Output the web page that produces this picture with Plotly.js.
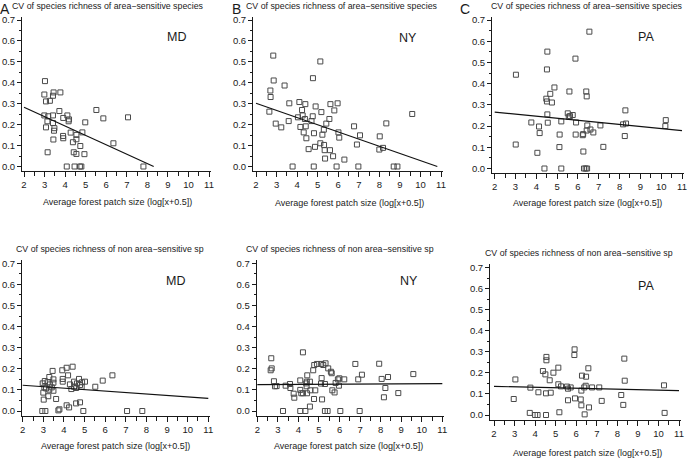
<!DOCTYPE html>
<html>
<head>
<meta charset="utf-8">
<script src="https://cdn.plot.ly/plotly-3.0.1.min.js"></script>
<style>body{margin:0;background:#fff}#plot{width:688px;height:460px}</style>
</head>
<body>
<div id="plot"></div>
<script>
// Panel A - MD, area-sensitive species
let mdAreaX = [3.02, 2.99, 3.44, 3.77, 3.41, 3.07, 3.26, 3.72, 5.52, 5.86, 7.06, 2.99, 3.18, 3.41, 3.91, 4.11, 4.19, 4.17, 3.14, 3.41, 4.98, 3.07, 3.48, 3.46, 4.27, 4.84, 4.55, 3.90, 3.91, 3.43, 4.55, 4.38, 6.35, 4.74, 3.15, 4.42, 4.55, 4.94, 4.08, 4.46, 4.72, 4.79, 7.81];
let mdAreaY = [0.408, 0.344, 0.354, 0.354, 0.338, 0.311, 0.314, 0.265, 0.270, 0.230, 0.235, 0.244, 0.240, 0.244, 0.232, 0.244, 0.225, 0.216, 0.216, 0.208, 0.211, 0.187, 0.183, 0.171, 0.162, 0.163, 0.151, 0.146, 0.135, 0.129, 0.130, 0.116, 0.111, 0.098, 0.068, 0.068, 0.060, 0.059, 0, 0, 0, 0, 0];
let mdAreaFitX = [2, 8.31];
let mdAreaFitY = [0.283, 0];

// Panel B - NY, area-sensitive species
let nyAreaX = [2.84, 2.86, 3.39, 2.70, 2.71, 2.65, 5.13, 4.77, 3.62, 4.11, 4.40, 4.90, 5.62, 5.97, 4.24, 5.18, 5.81, 9.60, 4.27, 4.76, 4.04, 4.38, 5.57, 4.70, 3.59, 2.96, 5.42, 8.34, 4.16, 4.42, 3.23, 6.77, 5.30, 4.32, 6.01, 4.82, 5.23, 7.06, 8.02, 6.05, 4.45, 5.13, 5.31, 6.91, 4.87, 8.18, 8.00, 4.56, 5.34, 5.60, 5.75, 5.36, 6.30, 3.78, 4.81, 5.92, 6.98, 8.70, 8.88];
let nyAreaY = [0.530, 0.411, 0.387, 0.363, 0.332, 0.262, 0.502, 0.422, 0.302, 0.308, 0.298, 0.287, 0.298, 0.302, 0.270, 0.260, 0.268, 0.251, 0.244, 0.240, 0.235, 0.227, 0.227, 0.217, 0.217, 0.205, 0.205, 0.206, 0.189, 0.192, 0.187, 0.192, 0.176, 0.163, 0.163, 0.159, 0.152, 0.149, 0.144, 0.138, 0.135, 0.111, 0.103, 0.105, 0.094, 0.089, 0.081, 0.083, 0.078, 0.078, 0.049, 0.038, 0.033, 0, 0, 0, 0, 0, 0];
let nyAreaFitX = [2, 10.82];
let nyAreaFitY = [0.302, 0];

// Panel C - PA, area-sensitive species
let paAreaX = [6.55, 4.53, 5.88, 4.51, 3.02, 4.87, 5.59, 6.40, 4.67, 6.42, 4.48, 4.51, 4.75, 8.28, 4.53, 5.51, 5.75, 5.56, 5.62, 10.22, 3.76, 4.55, 5.20, 5.91, 8.31, 8.17, 6.45, 7.08, 4.13, 10.20, 6.60, 6.42, 6.74, 4.16, 5.12, 5.89, 6.23, 6.25, 8.25, 3.01, 7.22, 5.11, 4.05, 6.26, 4.39, 5.20, 6.29, 6.37, 6.44];
let paAreaY = [0.645, 0.551, 0.518, 0.467, 0.442, 0.382, 0.363, 0.363, 0.352, 0.340, 0.329, 0.316, 0.311, 0.274, 0.255, 0.260, 0.252, 0.244, 0.247, 0.228, 0.217, 0.216, 0.222, 0.217, 0.212, 0.208, 0.203, 0.203, 0.198, 0.200, 0.184, 0.179, 0.170, 0.167, 0.160, 0.160, 0.157, 0.162, 0.153, 0.113, 0.102, 0.101, 0.074, 0.080, 0, 0, 0, 0, 0];
let paAreaFitX = [2, 11];
let paAreaFitY = [0.266, 0.179];

// Panel D - MD, non area-sensitive species
let mdNonX = [4.42, 4.13, 3.45, 3.92, 6.35, 3.29, 4.20, 3.94, 4.73, 3.49, 3.07, 5.88, 3.94, 4.49, 5.02, 4.88, 3.49, 3.21, 2.97, 3.32, 4.29, 4.63, 4.78, 4.49, 5.52, 3.41, 4.59, 4.86, 4.36, 3.13, 3.05, 3.29, 3.49, 3.00, 3.24, 3.62, 3.02, 4.13, 4.25, 4.78, 4.59, 3.78, 3.73, 2.95, 3.10, 4.94, 7.06, 7.80];
let mdNonY = [0.210, 0.205, 0.190, 0.193, 0.169, 0.161, 0.169, 0.152, 0.152, 0.150, 0.142, 0.144, 0.139, 0.139, 0.139, 0.136, 0.134, 0.136, 0.131, 0.126, 0.126, 0.131, 0.123, 0.115, 0.115, 0.112, 0.109, 0.115, 0.104, 0.107, 0.112, 0.101, 0.096, 0.087, 0.070, 0.057, 0.054, 0.027, 0.017, 0.041, 0.036, 0.008, 0.003, 0, 0, 0, 0, 0];
let mdNonFitX = [2, 11];
let mdNonFitY = [0.122, 0.060];

// Panel E - NY, non area-sensitive species
let nyNonX = [4.22, 2.68, 2.70, 2.65, 5.32, 5.11, 5.21, 4.77, 4.90, 6.77, 7.93, 4.72, 5.45, 5.58, 5.62, 9.59, 7.09, 4.43, 5.13, 5.99, 5.92, 6.91, 8.05, 8.36, 6.23, 4.09, 2.81, 4.56, 4.41, 4.38, 5.81, 5.29, 5.10, 3.59, 3.38, 2.94, 2.86, 4.40, 5.97, 3.61, 4.09, 4.82, 4.58, 5.65, 5.76, 8.23, 8.86, 3.77, 4.14, 4.22, 4.42, 3.80, 8.16, 4.76, 5.15, 4.56, 3.25, 4.09, 4.34, 5.29, 5.42, 6.04, 6.98];
let nyNonY = [0.278, 0.250, 0.202, 0.193, 0.226, 0.223, 0.218, 0.218, 0.223, 0.223, 0.224, 0.193, 0.202, 0.186, 0.179, 0.175, 0.172, 0.169, 0.156, 0.155, 0.150, 0.150, 0.152, 0.161, 0.150, 0.145, 0.141, 0.139, 0.139, 0.131, 0.133, 0.128, 0.130, 0.128, 0.120, 0.118, 0.117, 0.117, 0.120, 0.109, 0.100, 0.098, 0.098, 0.098, 0.088, 0.109, 0.085, 0.082, 0.084, 0.084, 0.084, 0.063, 0.065, 0.057, 0.055, 0.021, 0, 0, 0, 0, 0, 0, 0];
let nyNonFitX = [2, 11];
let nyNonFitY = [0.125, 0.130];

// Panel F - PA, non area-sensitive species
let paNonX = [5.92, 5.91, 4.55, 4.55, 8.34, 6.59, 5.13, 4.38, 4.89, 4.50, 6.28, 6.48, 3.04, 4.71, 8.36, 5.13, 6.46, 10.27, 3.77, 5.55, 5.73, 5.60, 5.26, 6.77, 7.12, 6.39, 6.25, 4.16, 4.76, 4.53, 8.19, 5.94, 2.96, 6.22, 7.24, 5.60, 8.29, 6.25, 6.62, 5.18, 3.74, 10.30, 4.00, 4.12, 4.53, 6.41];
let paNonY = [0.312, 0.285, 0.276, 0.260, 0.268, 0.222, 0.225, 0.209, 0.201, 0.193, 0.187, 0.182, 0.169, 0.165, 0.163, 0.146, 0.139, 0.141, 0.130, 0.135, 0.131, 0.125, 0.136, 0.131, 0.131, 0.131, 0.116, 0.108, 0.106, 0.103, 0.095, 0.079, 0.076, 0.074, 0.067, 0.070, 0.048, 0.046, 0.036, 0.013, 0.010, 0.010, 0, 0, 0, 0.003];
let paNonFitX = [2, 11];
let paNonFitY = [0.136, 0.116];

let topTitle = 'CV of species richness of area\u2212sensitive species';
let bottomTitle = 'CV of species richness of non area\u2212sensitive sp';
let xTitle = 'Average forest patch size (log[x+0.5])';

// pixel geometry of each panel, measured from the figure
// x2/x11 = pixel of x=2 and x=11, y0/y7 = pixel of y=0 and y=0.7
let panels = [
  {x: mdAreaX, y: mdAreaY, fx: mdAreaFitX, fy: mdAreaFitY, state: 'MD', letter: 'A', title: topTitle,
   x2: 24, x11: 209, y0: 166.5, y7: 20, left: 22, right: 211, top: 17, bottom: 171,
   titleX: 108, titleY: 6, xtX: 117, xtY: 202, stX: 176, stY: 37, letX: 5},
  {x: nyAreaX, y: nyAreaY, fx: nyAreaFitX, fy: nyAreaFitY, state: 'NY', letter: 'B', title: topTitle,
   x2: 256, x11: 441, y0: 166.5, y7: 20, left: 253, right: 443, top: 17, bottom: 171,
   titleX: 342, titleY: 6, xtX: 349, xtY: 203, stX: 408, stY: 38, letX: 236},
  {x: paAreaX, y: paAreaY, fx: paAreaFitX, fy: paAreaFitY, state: 'PA', letter: 'C', title: topTitle,
   x2: 494.7, x11: 682, y0: 168.5, y7: 20, left: 492, right: 684, top: 17, bottom: 173,
   titleX: 587, titleY: 6, xtX: 587, xtY: 203, stX: 646, stY: 37, letX: 465},
  {x: mdNonX, y: mdNonY, fx: mdNonFitX, fy: mdNonFitY, state: 'MD', letter: '', title: bottomTitle,
   x2: 22.7, x11: 208.3, y0: 411, y7: 263.3, left: 22, right: 210, top: 260, bottom: 415.5,
   titleX: 110, titleY: 249, xtX: 115, xtY: 446, stX: 175, stY: 281},
  {x: nyNonX, y: nyNonY, fx: nyNonFitX, fy: nyNonFitY, state: 'NY', letter: '', title: bottomTitle,
   x2: 257.3, x11: 442.3, y0: 411, y7: 263.3, left: 256.7, right: 444, top: 260, bottom: 415.5,
   titleX: 340, titleY: 249, xtX: 348, xtY: 446, stX: 409, stY: 281},
  {x: paNonX, y: paNonY, fx: paNonFitX, fy: paNonFitY, state: 'PA', letter: '', title: bottomTitle,
   x2: 494, x11: 679, y0: 415, y7: 267.7, left: 490, right: 681, top: 264, bottom: 419.5,
   titleX: 579, titleY: 253, xtX: 587, xtY: 453, stX: 646, stY: 286}
];

let W = 688, H = 460;
let fontFam = '"Liberation Sans", Arial, sans-serif';
let ink = '#1a1a1a';

let traces = [];
let layout = {
  width: W, height: H,
  margin: {l: 0, r: 0, t: 0, b: 0},
  paper_bgcolor: '#fff', plot_bgcolor: '#fff',
  showlegend: false,
  font: {family: fontFam, size: 9.5, color: ink},
  annotations: []
};

function px2x(px) { return px / W; }
function px2y(py) { return 1 - py / H; }
function note(text, px, py, size, yanchor) {
  layout.annotations.push({
    xref: 'paper', yref: 'paper', x: px2x(px), y: px2y(py),
    xanchor: 'center', yanchor: yanchor || 'middle', showarrow: false,
    borderpad: 0,
    text: text, font: {family: fontFam, size: size, color: ink}
  });
}

panels.forEach((p, i) => {
  let n = i === 0 ? '' : String(i + 1);
  let xa = 'x' + n, ya = 'y' + n;
  let kx = (p.x11 - p.x2) / 9;       // pixels per x unit
  let ky = (p.y0 - p.y7) / 0.7;      // pixels per y unit

  traces.push({
    x: p.x, y: p.y, xaxis: xa, yaxis: ya,
    type: 'scatter', mode: 'markers', cliponaxis: false,
    marker: {symbol: 'square-open', size: 5, color: '#4a4a4a', line: {width: 1, color: '#4a4a4a'}},
    hoverinfo: 'skip'
  });
  traces.push({
    x: p.fx, y: p.fy, xaxis: xa, yaxis: ya,
    type: 'scatter', mode: 'lines', cliponaxis: false,
    line: {color: '#111', width: 1.2},
    hoverinfo: 'skip'
  });

  layout['xaxis' + n] = {
    domain: [px2x(p.left), px2x(p.right)],
    range: [2 - (p.x2 - p.left) / kx, 11 + (p.right - p.x11) / kx],
    anchor: ya, showgrid: false, zeroline: false,
    showline: true, linecolor: ink, linewidth: 1,
    ticks: 'outside', ticklen: 5, tickwidth: 1, tickcolor: ink,
    tick0: 2, dtick: 1,
    minor: {dtick: 0.5, tick0: 2, ticks: 'outside', ticklen: 4, tickcolor: ink, showgrid: false},
    tickfont: {family: fontFam, size: 9.5, color: ink},
    fixedrange: true
  };
  layout['yaxis' + n] = {
    domain: [px2y(p.bottom), px2y(p.top)],
    range: [-(p.bottom - p.y0) / ky, 0.7 + (p.y7 - p.top) / ky],
    anchor: xa, showgrid: false, zeroline: false,
    showline: true, linecolor: ink, linewidth: 1,
    ticks: 'outside', ticklen: 4, tickwidth: 1, tickcolor: ink,
    tick0: 0, dtick: 0.1, tickformat: '.1f',
    minor: {dtick: 0.05, tick0: 0, ticks: 'outside', ticklen: 2, tickcolor: ink, showgrid: false},
    tickfont: {family: fontFam, size: 9.5, color: ink},
    fixedrange: true
  };

  note(p.title, p.titleX, p.titleY, 8.8);
  note(xTitle, p.xtX, p.xtY, 9);
  note(p.state, p.stX, p.stY, 12.5);
  if (p.letter) note(p.letter, p.letX, 0, 14, 'top');
});

Plotly.newPlot('plot', traces, layout, {staticPlot: true});
</script>
</body>
</html>
